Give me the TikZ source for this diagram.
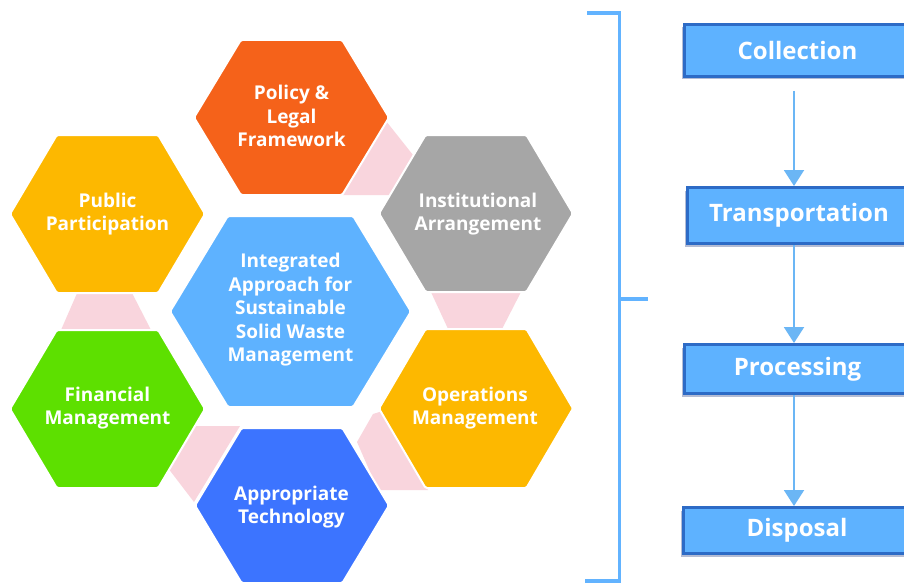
\documentclass[tikz,border=0pt]{standalone}
\usepackage{fontspec}
\setmainfont{Open Sans}
\usetikzlibrary{arrows.meta,shadows,calc}
\definecolor{orangec}{HTML}{F5621A}
\definecolor{yellowc}{HTML}{FDB800}
\definecolor{grayc}{HTML}{A6A6A6}
\definecolor{lightbluec}{HTML}{5EB2FF}
\definecolor{greenc}{HTML}{5DE000}
\definecolor{bluec}{HTML}{3C74FF}
\definecolor{pinkc}{HTML}{F9D5DD}
\definecolor{boxfill}{HTML}{5EB2FF}
\definecolor{boxborder}{HTML}{2D6BC6}
\definecolor{boxshadow}{HTML}{B4BCD4}
\definecolor{arrowc}{HTML}{6BB6F5}
\definecolor{bracketc}{HTML}{62B3FF}
\tikzset{
  hexlabel/.style={text=white, font=\bfseries\fontsize{19}{23.5}\selectfont, align=center, inner sep=0pt},
  hexshape/.style={draw=white, line width=2pt, rounded corners=1.5pt},
  pinkpiece/.style={fill=pinkc},
  flowbox/.style={draw=boxborder, line width=3pt, fill=boxfill, text=white,
    font=\bfseries\fontsize{24}{29}\selectfont, inner sep=0pt,
    drop shadow={shadow xshift=-3pt, shadow yshift=-3pt, fill=boxshadow, opacity=1}},
  flowarrow/.style={draw=arrowc, line width=2pt, -{Triangle[width=20pt,length=16pt]}},
  bracketline/.style={draw=bracketc, line width=3.5pt},
}
\newcommand{\myhex}[5]{%
  \path[hexshape,#5] ({#1-#3},#2) -- ({#1-0.52*#3},{#2-#4}) -- ({#1+0.52*#3},{#2-#4})
    -- ({#1+#3},#2) -- ({#1+0.52*#3},{#2+#4}) -- ({#1-0.52*#3},{#2+#4}) -- cycle;}
\begin{document}
\begin{tikzpicture}[x=1pt,y=-1pt]
\useasboundingbox (0,0) rectangle (904,583);
\fill[white] (0,0) rectangle (904,583);

% pink connectors
\fill[pinkpiece] (386,121) -- (413,155) -- (390,195) -- (343,195) -- cycle;
\fill[pinkpiece] (430,290) -- (522,290) -- (501,331) -- (449,331) -- cycle;
\fill[pinkpiece] (373,414) -- (386,410) -- (428,490) -- (378,490) -- (357,442) -- cycle;
\fill[pinkpiece] (190,426) -- (240,426) -- (194,502) -- (168,468) -- cycle;
\fill[pinkpiece] (78,291) -- (131,291) -- (151,330) -- (61,330) -- cycle;

% hexagons
\myhex{291.5}{117.5}{97.5}{77.5}{fill=orangec}
\myhex{107.5}{214}{97.5}{79}{fill=yellowc}
\myhex{476}{213.5}{97}{78.5}{fill=grayc}
\myhex{290.5}{311.5}{120.5}{95.5}{fill=lightbluec}
\myhex{107.5}{409}{97.5}{79}{fill=greenc}
\myhex{476}{408.5}{97}{79.5}{fill=yellowc}
\myhex{292}{505.5}{97}{77.5}{fill=bluec}

% hexagon labels
\node[hexlabel] (policy) at (291.5,116) {Policy \&\\Legal\\Framework};
\node[hexlabel] (public) at (107.5,214) {Public\\Participation};
\node[hexlabel] (inst) at (478,214) {Institutional\\Arrangement};
\node[hexlabel] (center) at (290.5,310) {Integrated\\Approach for\\Sustainable\\Solid Waste\\Management};
\node[hexlabel] (fin) at (107.5,408) {Financial\\Management};
\node[hexlabel] (ops) at (475,408) {Operations\\Management};
\node[hexlabel] (tech) at (291.5,507) {Appropriate\\Technology};

% bracket
\coordinate (btop) at (587,13);
\coordinate (bbot) at (585,581);
\coordinate (bmid) at (619.5,299);
\coordinate (btip) at (648,299);
\draw[bracketline] (btop) -- (619.5,13) -- (619.5,581) -- (bbot);
\draw[bracketline] (bmid) -- (btip);

% flow boxes
\node[flowbox, minimum width=226pt, minimum height=52pt] (coll) at (797.5,50.5) {Collection};
\node[flowbox, minimum width=223pt, minimum height=56pt] (trans) at (799,215.5) {Transportation};
\node[flowbox, minimum width=226pt, minimum height=49pt] (proc) at (797.5,369) {Processing};
\node[flowbox, minimum width=227pt, minimum height=46pt] (disp) at (797,530.5) {Disposal};

\coordinate (ax) at (794,0);
\draw[flowarrow, shorten <=13pt] (coll.south -| ax) -- (trans.north -| ax);
\draw[flowarrow] (trans.south -| ax) -- (proc.north -| ax);
\draw[flowarrow] (proc.south -| ax) -- (disp.north -| ax);
\end{tikzpicture}
\end{document}
